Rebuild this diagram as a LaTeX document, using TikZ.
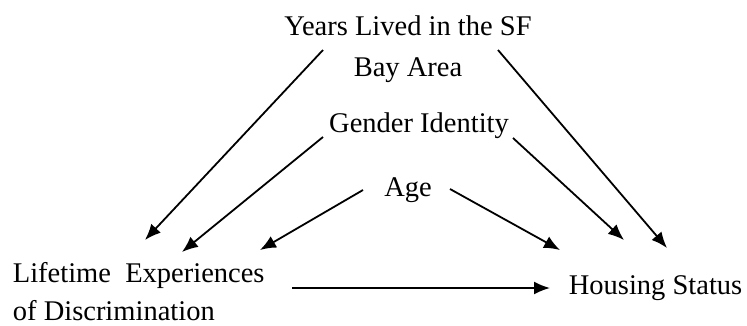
\documentclass[tikz,border=0pt]{standalone}
\usepackage{fontspec}
\setmainfont{Liberation Serif}
\usetikzlibrary{arrows.meta}

\begin{document}
\begin{tikzpicture}[x=1pt,y=-1pt,line width=1.8pt,
				var node/.style = {inner sep = 0pt, font=\fontsize{28.5}{41}\selectfont},
				arr/.style = {-{Latex[length=16pt,width=13pt]}}]
				\useasboundingbox (0,0) rectangle (747,325);
				\node[var node,anchor=base,align=center] (1) at (408,76) {Years Lived in the SF\\Bay Area};
				\node[var node,anchor=base] (2) at (419,132) {Gender Identity};
				\node[var node,anchor=base] (3) at (408,196) {Age};
				\node[var node,anchor=base west,align=left,font=\fontsize{28.5}{38}\selectfont] (4) at (12,320) {Lifetime~~Experiences\\of Discrimination};
				\node[var node,anchor=base west] (5) at (568,294) {Housing Status};
				
				\path[arr]
				([shift={(-85,-26)}]1.base) edge ([shift={(133,-80)}]4.base west)
				([shift={(90,-26)}]1.base) edge ([shift={(99,-46)}]5.base west)
				([shift={(-96,5)}]2.base) edge ([shift={(170,-68)}]4.base west)
				([shift={(94,6)}]2.base) edge ([shift={(56,-54)}]5.base west)
				([shift={(-45,-6)}]3.base) edge ([shift={(248,-70)}]4.base west)
				([shift={(42,-7)}]3.base) edge ([shift={(-8,-44)}]5.base west)
				([shift={(280,-32)}]4.base west) edge ([shift={(-18,-6)}]5.base west);
\end{tikzpicture}
\end{document}
